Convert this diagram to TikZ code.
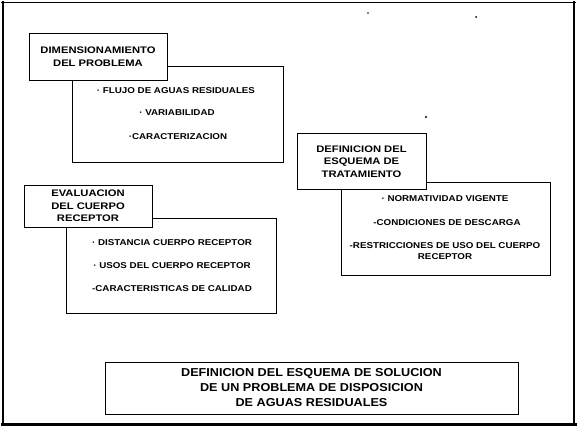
\documentclass[tikz,border=0pt]{standalone}
\usepackage{fontspec}
\setmainfont{Liberation Sans}
\newfontfamily\titfont{Liberation Sans}[UprightFont={* Bold},FakeStretch=1.18]
\newfontfamily\itmfont{Liberation Sans}[UprightFont={* Bold},FakeStretch=1.15]
\newfontfamily\botfont{Liberation Sans}[UprightFont={* Bold},FakeStretch=1.1]
\tikzset{
  box/.style={draw, line width=0.9pt, inner sep=0pt, fill=white},
  tit/.style={font=\titfont\fontsize{9.5}{12.5}\selectfont, align=center},
  itm/.style={font=\itmfont\fontsize{8.5}{11.5}\selectfont, align=center, inner sep=0pt},
  bot/.style={font=\botfont\fontsize{11.5}{15}\selectfont, align=center},
  frameline/.style={line cap=rect}
}
\begin{document}
\begin{tikzpicture}[x=1pt,y=-1pt]
\useasboundingbox (0,0) rectangle (577,428);
% outer frame
\draw[frameline, line width=1.5pt] (2,2.5) -- (575,2.5);
\draw[frameline, line width=2.5pt] (3,2) -- (3,425);
\draw[frameline, line width=2.5pt] (574,2) -- (574,425);
\draw[frameline, line width=3pt] (2,424.5) -- (575,424.5);
% specks
\fill (368,13) circle (0.8);
\fill (476,17) circle (1);
\fill (426,117) circle (1.2);

% list boxes (drawn first)
\node[box, minimum width=211pt, minimum height=96pt] (l1) at (177.5,114) {};
\node[box, minimum width=210pt, minimum height=95pt] (l2) at (171,265.5) {};
\node[box, minimum width=209pt, minimum height=93pt] (l3) at (445.5,228.5) {};

% title boxes on top
\node[box, tit, minimum width=138pt, minimum height=47pt] (t1) at (98,56.5) {DIMENSIONAMIENTO\\DEL PROBLEMA};
\node[box, tit, minimum width=128pt, minimum height=42pt] (t2) at (88,206) {EVALUACION\\DEL CUERPO\\RECEPTOR};
\node[box, tit, minimum width=129pt, minimum height=56pt] (t3) at (361.5,161.5) {DEFINICION DEL\\ESQUEMA DE\\TRATAMIENTO};

% items
\node[itm] (a1) at (176,91) {· FLUJO DE AGUAS RESIDUALES};
\node[itm] (a2) at (177,113) {· VARIABILIDAD};
\node[itm] (a3) at (178,137) {·CARACTERIZACION};

\node[itm] (b1) at (172,243) {· DISTANCIA CUERPO RECEPTOR};
\node[itm] (b2) at (172,266) {· USOS DEL CUERPO RECEPTOR};
\node[itm] (b3) at (172,289) {-CARACTERISTICAS DE CALIDAD};

\node[itm] (c1) at (445,199) {· NORMATIVIDAD VIGENTE};
\node[itm] (c2) at (447,223) {-CONDICIONES DE DESCARGA};
\node[itm] (c3) at (445,251) {-RESTRICCIONES DE USO DEL CUERPO\\RECEPTOR};

% bottom box
\node[box, bot, minimum width=413pt, minimum height=52pt] (s) at (311.5,388) {DEFINICION DEL ESQUEMA DE SOLUCION\\DE UN PROBLEMA DE DISPOSICION\\DE AGUAS RESIDUALES};
\end{tikzpicture}
\end{document}
